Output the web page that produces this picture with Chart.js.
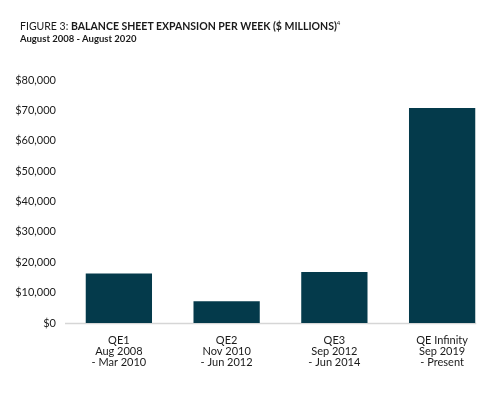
<!DOCTYPE html>
<html>
<head>
<meta charset="utf-8">
<script src="https://cdn.jsdelivr.net/npm/chart.js@4.4.0/dist/chart.umd.min.js"></script>
<style>
  html, body { margin: 0; padding: 0; background: #fff; }
  #wrap { position: relative; width: 496px; height: 393px; }
  #title { position: absolute; left: 20px; top: 16px; font-family: Lato, "Open Sans", sans-serif; color: #1a1a1a; }
  #title .t { font-size: 10.5px; line-height: 13px; }
  #title .t b { font-weight: 700; }
  #title sup { font-size: 6px; }
  #title .s { font-size: 9.5px; font-weight: 700; margin-top: 0px; }
  canvas { position: absolute; left: 0; top: 0; }
</style>
</head>
<body>
<div id="wrap">
  <canvas id="chart" width="496" height="393"></canvas>
  <div id="title">
    <div class="t">FIGURE 3: <b>BALANCE SHEET EXPANSION PER WEEK ($ MILLIONS)</b><sup>4</sup></div>
    <div class="s">August 2008 - August 2020</div>
  </div>
</div>
<script>
// Datos
const programas = [
  ["QE1", "Aug 2008", "- Mar 2010"],
  ["QE2", "Nov 2010", "- Jun 2012"],
  ["QE3", "Sep 2012", "- Jun 2014"],
  ["QE Infinity", "Sep 2019", "- Present"]
];
const expansionSemanal = [16300, 7200, 16800, 70800];
const yMax = 80000;
const yStep = 10000;

// linea base gris bajo las barras
const baseLine = {
  id: "baseLine",
  beforeDatasetsDraw(chart) {
    const { ctx, chartArea } = chart;
    const bars = chart.getDatasetMeta(0).data;
    const last = bars[bars.length - 1];
    const right = last.x + last.width / 2 + 1;
    ctx.save();
    ctx.strokeStyle = "#d6d6d6";
    ctx.lineWidth = 1.5;
    ctx.beginPath();
    ctx.moveTo(chartArea.left, chartArea.bottom + 0.5);
    ctx.lineTo(right, chartArea.bottom + 0.5);
    ctx.stroke();
    ctx.restore();
  }
};

const fontFam = "Lato, 'Open Sans', sans-serif";

new Chart(document.getElementById("chart"), {
  type: "bar",
  data: {
    labels: programas,
    datasets: [{
      data: expansionSemanal,
      backgroundColor: "#043a4b",
      borderWidth: 0,
      categoryPercentage: 1,
      barPercentage: 0.615
    }]
  },
  options: {
    responsive: false,
    animation: false,
    layout: { padding: { top: 80, right: 0, bottom: 0, left: 0 } },
    plugins: { legend: { display: false }, tooltip: { enabled: false } },
    scales: {
      x: {
        grid: { display: false, drawTicks: false },
        border: { display: false },
        ticks: {
          color: "#1a1a1a",
          padding: 12,
          font: { family: fontFam, size: 11, lineHeight: 1.0 },
          maxRotation: 0,
          autoSkip: false
        },
        afterFit(scale) { scale.height = 70; }
      },
      y: {
        min: 0,
        max: yMax,
        grid: { display: false, drawTicks: false },
        border: { display: false },
        ticks: {
          stepSize: yStep,
          color: "#1a1a1a",
          padding: 9,
          font: { family: fontFam, size: 11 },
          callback: v => "$" + v.toLocaleString("en-US")
        },
        afterFit(scale) { scale.width = 65; }
      }
    }
  },
  plugins: [baseLine]
});
</script>
</body>
</html>
